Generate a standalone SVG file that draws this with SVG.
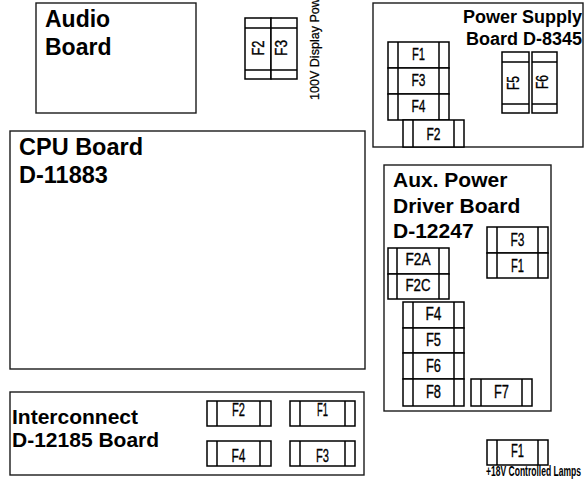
<svg xmlns="http://www.w3.org/2000/svg" width="585" height="486" viewBox="0 0 585 486">
<style>
.board{fill:#fff;stroke:#1a1a1a;stroke-width:1.4}
.fuse{fill:#fff;stroke:#000;stroke-width:1.5}
.cap{fill:none;stroke:#000;stroke-width:1.5}
.bl{font-family:"Liberation Sans",Arial,sans-serif;font-weight:bold;fill:#000}
.fl{font-family:"Liberation Sans",Arial,sans-serif;font-size:18px;fill:#000;stroke:#000;stroke-width:0.35;text-anchor:middle}
.fs{font-family:"Liberation Sans",Arial,sans-serif;font-size:16.5px;fill:#000;stroke:#000;stroke-width:0.35;text-anchor:middle}
.sl{font-family:"Liberation Sans",Arial,sans-serif;font-size:14.5px;font-weight:bold;fill:#000}
.vl{font-family:"Liberation Sans",Arial,sans-serif;font-size:13px;fill:#000;stroke:#000;stroke-width:0.25}
</style>
<rect width="585" height="486" fill="#fff"/>

<g id="audio-board">
<rect class="board" x="36" y="3" width="160" height="110"/>
<text class="bl" x="45" y="27" font-size="23">Audio</text>
<text class="bl" x="45" y="55" font-size="23">Board</text>
</g>

<g id="display-fuses">
<rect class="fuse" x="245" y="18" width="26" height="61"/>
<path class="cap" d="M245 28H271M245 70H271"/>
<text class="fs" font-size="14.5" transform="translate(263.5,48) rotate(-90)" textLength="15" lengthAdjust="spacingAndGlyphs">F2</text>
<rect class="fuse" x="271" y="18" width="26" height="61"/>
<path class="cap" d="M271 28H297M271 70H297"/>
<text class="fs" font-size="14.5" transform="translate(287,48) rotate(-90)" textLength="16" lengthAdjust="spacingAndGlyphs">F3</text>
<text class="vl" transform="translate(318.5,100) rotate(-90)" textLength="113" lengthAdjust="spacingAndGlyphs">100V Display Power</text>
</g>

<g id="power-supply-board">
<rect class="board" x="373" y="3" width="210" height="144"/>
<text class="bl" x="582" y="23" font-size="18" text-anchor="end">Power Supply</text>
<text class="bl" x="582" y="45" font-size="18" text-anchor="end">Board D-8345</text>
<rect class="fuse" x="388" y="42" width="61" height="26"/><path class="cap" d="M398 42V68M439 42V68"/>
<text class="fs" x="418.5" y="60" textLength="13" lengthAdjust="spacingAndGlyphs">F1</text>
<rect class="fuse" x="388" y="68" width="61" height="26"/><path class="cap" d="M398 68V94M439 68V94"/>
<text class="fs" x="418.5" y="86" textLength="14" lengthAdjust="spacingAndGlyphs">F3</text>
<rect class="fuse" x="388" y="94" width="61" height="26"/><path class="cap" d="M398 94V120M439 94V120"/>
<text class="fs" x="418.5" y="111.5" textLength="14" lengthAdjust="spacingAndGlyphs">F4</text>
<rect class="fuse" x="403" y="120" width="61" height="27"/><path class="cap" d="M413 120V147M454 120V147"/>
<text class="fs" x="433.5" y="140" textLength="14" lengthAdjust="spacingAndGlyphs">F2</text>
<rect class="fuse" x="502" y="52" width="27" height="61"/><path class="cap" d="M502 62H529M502 104H529"/>
<text class="fs" transform="translate(519,83) rotate(-90)" textLength="14" lengthAdjust="spacingAndGlyphs">F5</text>
<rect class="fuse" x="532" y="52" width="25" height="61"/><path class="cap" d="M532 62H557M532 104H557"/>
<text class="fs" transform="translate(548,82) rotate(-90)" textLength="14" lengthAdjust="spacingAndGlyphs">F6</text>
</g>

<g id="cpu-board">
<rect class="board" x="10" y="131" width="355" height="238"/>
<text class="bl" x="19" y="155" font-size="23.5">CPU Board</text>
<text class="bl" x="19" y="183" font-size="23.5">D-11883</text>
</g>

<g id="aux-power-driver-board">
<rect class="board" x="384" y="165" width="167" height="246"/>
<text class="bl" x="393" y="187" font-size="21">Aux. Power</text>
<text class="bl" x="393" y="213" font-size="21">Driver Board</text>
<text class="bl" x="393" y="238" font-size="21">D-12247</text>
<rect class="fuse" x="487" y="227" width="61" height="26"/><path class="cap" d="M497 227V253M538 227V253"/>
<text class="fl" x="517.5" y="246" textLength="14" lengthAdjust="spacingAndGlyphs">F3</text>
<rect class="fuse" x="487" y="253" width="61" height="25"/><path class="cap" d="M497 253V278M538 253V278"/>
<text class="fl" x="517.5" y="271.5" textLength="13" lengthAdjust="spacingAndGlyphs">F1</text>
<rect class="fuse" x="388" y="248" width="61" height="26"/><path class="cap" d="M397 248V274M439 248V274"/>
<text class="fs" x="418" y="265" textLength="25" lengthAdjust="spacingAndGlyphs">F2A</text>
<rect class="fuse" x="388" y="274" width="61" height="25"/><path class="cap" d="M397 274V299M439 274V299"/>
<text class="fs" x="418" y="290.5" textLength="25" lengthAdjust="spacingAndGlyphs">F2C</text>
<rect class="fuse" x="403" y="302" width="61" height="26"/><path class="cap" d="M413 302V328M454 302V328"/>
<text class="fl" x="433.5" y="320" textLength="16" lengthAdjust="spacingAndGlyphs">F4</text>
<rect class="fuse" x="403" y="328" width="61" height="25"/><path class="cap" d="M413 328V353M454 328V353"/>
<text class="fl" x="433.5" y="346" textLength="15" lengthAdjust="spacingAndGlyphs">F5</text>
<rect class="fuse" x="403" y="353" width="61" height="26"/><path class="cap" d="M413 353V379M454 353V379"/>
<text class="fl" x="433.5" y="371.5" textLength="15" lengthAdjust="spacingAndGlyphs">F6</text>
<rect class="fuse" x="403" y="379" width="61" height="27"/><path class="cap" d="M413 379V406M454 379V406"/>
<text class="fl" x="433.5" y="398" textLength="15" lengthAdjust="spacingAndGlyphs">F8</text>
<rect class="fuse" x="471" y="379" width="61" height="27"/><path class="cap" d="M481 379V406M522 379V406"/>
<text class="fl" x="501.5" y="398" textLength="15" lengthAdjust="spacingAndGlyphs">F7</text>
</g>

<g id="interconnect-board">
<rect class="board" x="10" y="392" width="354" height="83"/>
<text class="bl" x="12" y="424" font-size="21">Interconnect</text>
<text class="bl" x="12" y="447" font-size="21">D-12185 Board</text>
<rect class="fuse" x="207" y="401" width="64" height="25"/><path class="cap" d="M217 401V426M260 401V426"/>
<text class="fl" x="238.5" y="416" textLength="13" lengthAdjust="spacingAndGlyphs">F2</text>
<rect class="fuse" x="290" y="401" width="65" height="25"/><path class="cap" d="M300 401V426M345 401V426"/>
<text class="fl" x="322.5" y="416" textLength="11" lengthAdjust="spacingAndGlyphs">F1</text>
<rect class="fuse" x="207" y="441" width="64" height="25"/><path class="cap" d="M217 441V466M260 441V466"/>
<text class="fl" x="238.5" y="461.5" textLength="14" lengthAdjust="spacingAndGlyphs">F4</text>
<rect class="fuse" x="290" y="441" width="65" height="25"/><path class="cap" d="M300 441V466M345 441V466"/>
<text class="fl" x="322.5" y="461.5" textLength="13" lengthAdjust="spacingAndGlyphs">F3</text>
</g>

<g id="lamps-fuse">
<rect class="fuse" x="487" y="440" width="61" height="25"/><path class="cap" d="M497 440V465M538 440V465"/>
<text class="fl" x="517.5" y="457" textLength="13" lengthAdjust="spacingAndGlyphs">F1</text>
<text class="sl" x="486" y="476" textLength="95" lengthAdjust="spacingAndGlyphs">+18V Controlled Lamps</text>
</g>

<g id="connectors"></g>
</svg>
